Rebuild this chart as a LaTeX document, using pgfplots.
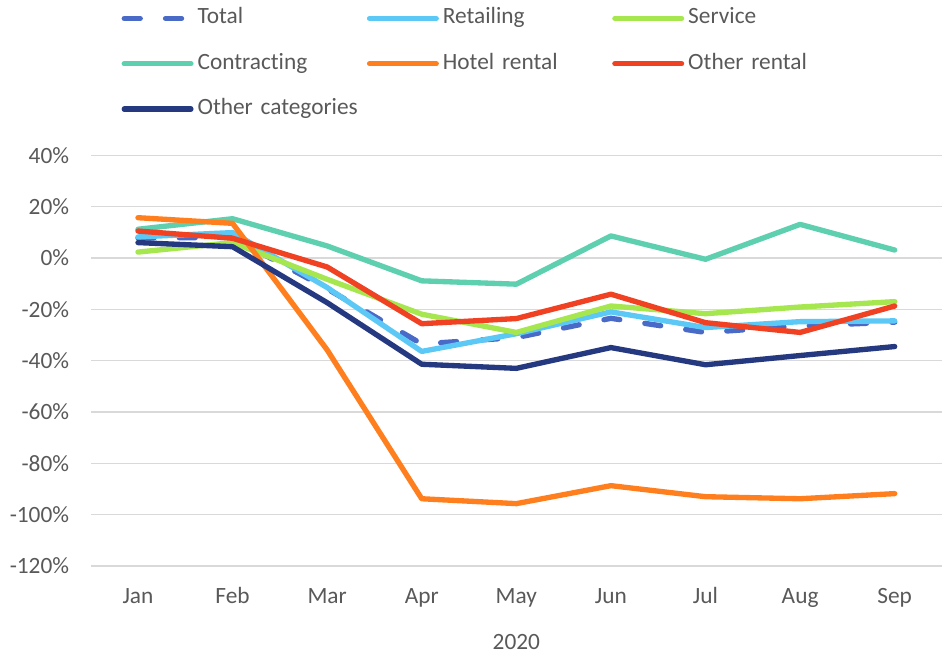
\documentclass[border=0pt]{standalone}
\usepackage{fontspec}
\setmainfont{Carlito}[Ligatures={NoCommon}]
\usepackage{pgfplots}
\usepackage{pgfplotstable}
\pgfplotsset{compat=1.18}

\definecolor{txtgrey}{RGB}{89,89,89}
\definecolor{gridgrey}{RGB}{217,217,217}
\definecolor{ctotal}{RGB}{74,106,200}
\definecolor{cretail}{RGB}{91,200,245}
\definecolor{cservice}{RGB}{166,231,80}
\definecolor{ccontract}{RGB}{94,208,176}
\definecolor{chotel}{RGB}{255,127,30}
\definecolor{crental}{RGB}{240,65,35}
\definecolor{cother}{RGB}{37,57,128}

% month index, then one column per series (percent change)
\pgfplotstableread{
m total retail service contract hotel rental other
0  7.8   8.2   2.3  11.2  15.7  10.5   6.0
1  8.0   9.9   6.0  15.3  13.5   7.7   4.4
2 -12.0 -11.5 -8.3   4.7 -35.8  -3.5 -17.4
3 -33.5 -36.4 -21.9 -8.9 -93.8 -25.6 -41.4
4 -31.0 -29.5 -29.0 -10.2 -95.7 -23.6 -43.0
5 -23.5 -21.0 -18.7  8.6 -88.7 -14.1 -34.9
6 -29.0 -27.1 -21.7 -0.5 -93.0 -25.2 -41.6
7 -26.5 -24.8 -19.1 13.1 -93.8 -29.0 -38.0
8 -25.0 -24.5 -17.0  3.1 -91.8 -18.7 -34.5
}\datatable

\newcommand{\chartfont}{\fontsize{17.5}{21}\selectfont}

\begin{document}
\begin{tikzpicture}
\useasboundingbox (-68pt,-69.75pt) rectangle (638.5pt,424.5pt);
\begin{axis}[
  scale only axis,
  width=638.5pt, height=308pt,
  xmin=-0.5, xmax=8.5,
  ymin=-120, ymax=40,
  ytick={-120,-100,...,40},
  xtick={0,...,8},
  xticklabels={Jan,Feb,Mar,Apr,May,Jun,Jul,Aug,Sep},
  yticklabel={\pgfmathprintnumber{\tick}\%},
  /pgf/number format/assume math mode=true,
  axis line style={draw=none},
  major tick length=0pt,
  ymajorgrids, grid style={gridgrey, line width=1.1pt},
  tick label style={font=\chartfont, text=txtgrey},
  yticklabel style={anchor=east, inner xsep=0pt, xshift=-16pt},
  xticklabel style={anchor=base, yshift=-28.5pt},
  xlabel={2020},
  xlabel style={font=\chartfont, text=txtgrey, at={(axis description cs:0.5,0)}, anchor=base, yshift=-63pt},
  every axis plot/.append style={line width=4pt, line join=round, line cap=round},
  legend image code/.code={\draw[#1] (0pt,0pt) -- (50pt,0pt);},
  legend columns=3,
  legend cell align=left,
  legend style={draw=none, fill=none, font=\chartfont, text=txtgrey,
    at={(0.036,1.360)}, anchor=north west, inner sep=0pt,
    row sep=18pt,
    nodes={inner xsep=0pt, inner ysep=0pt, text width=127pt, align=left, text height=12pt, text depth=4pt},
    /tikz/every odd column/.append style={column sep=3pt}},
]
\addplot[ctotal, dash pattern=on 12pt off 19pt] table[x=m, y=total] {\datatable};
\addlegendentry{Total}
\addplot[cretail] table[x=m, y=retail] {\datatable};
\addlegendentry{Retailing}
\addplot[cservice] table[x=m, y=service] {\datatable};
\addlegendentry{Service}
\addplot[ccontract] table[x=m, y=contract] {\datatable};
\addlegendentry{Contracting}
\addplot[chotel] table[x=m, y=hotel] {\datatable};
\addlegendentry{Hotel rental}
\addplot[crental] table[x=m, y=rental] {\datatable};
\addlegendentry{Other rental}
\addplot[cother] table[x=m, y=other] {\datatable};
\addlegendentry{Other categories}
\draw[gridgrey, line width=1.1pt] (axis cs:-0.5,-120) -- ++(0pt,-75pt);
\end{axis}
\end{tikzpicture}
\end{document}
